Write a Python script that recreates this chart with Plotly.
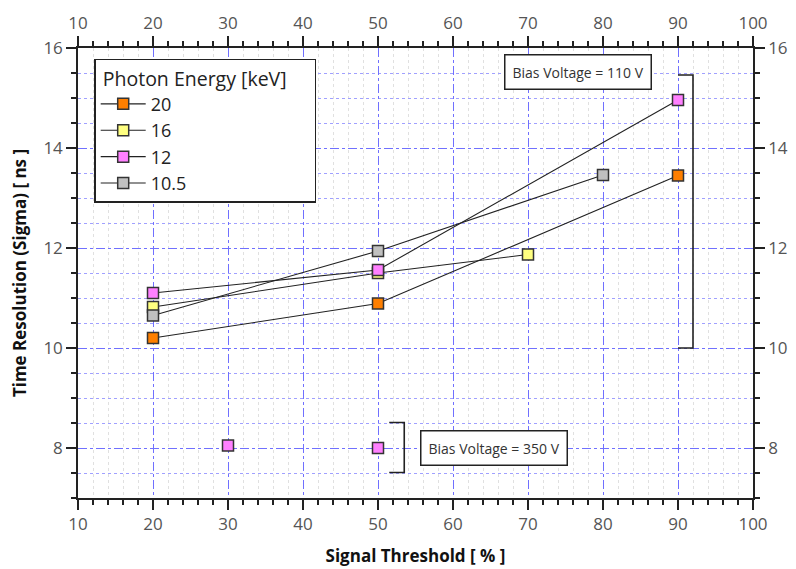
import plotly.graph_objects as go

# ---- data ----
series_names = ["20", "16", "12", "10.5"]
series_colors = ["#FF7F00", "#FFFF80", "#FF80FF", "#C0C0C0"]
x_20 = [20, 50, 90]
y_20 = [10.2, 10.89, 13.45]
x_16 = [20, 50, 70]
y_16 = [10.82, 11.5, 11.87]
x_12 = [20, 50, 90]
y_12 = [11.1, 11.56, 14.96]
x_105 = [20, 50, 80]
y_105 = [10.65, 11.94, 13.46]
x_12_350 = [30, 50]
y_12_350 = [8.05, 8.0]

bracket_110_x = [90, 92, 92, 90]
bracket_110_y = [15.46, 15.46, 10.0, 10.0]
bracket_350_x = [51.5, 53.5, 53.5, 51.5]
bracket_350_y = [8.51, 8.51, 7.51, 7.51]

xs = [x_20, x_16, x_12, x_105]
ys = [y_20, y_16, y_12, y_105]

FONT = "Open Sans"
fig = go.Figure()

for name, col, x, y in zip(series_names, series_colors, xs, ys):
    fig.add_trace(go.Scatter(
        x=x, y=y, name=name, mode="lines+markers",
        line=dict(color="#222222", width=1.1),
        marker=dict(symbol="square", size=11, color=col,
                    line=dict(color="#333333", width=1.5)),
    ))

fig.add_trace(go.Scatter(
    x=x_12_350, y=y_12_350, mode="markers", showlegend=False,
    marker=dict(symbol="square", size=11, color=series_colors[2],
                line=dict(color="#333333", width=1.5)),
))

for bx, by in [(bracket_110_x, bracket_110_y), (bracket_350_x, bracket_350_y)]:
    fig.add_trace(go.Scatter(x=bx, y=by, mode="lines", showlegend=False,
                             hoverinfo="skip",
                             line=dict(color="#222222", width=1.6)))

# invisible trace for secondary axes
fig.add_trace(go.Scatter(x=[10], y=[7], xaxis="x2", yaxis="y2", mode="markers",
                         marker=dict(opacity=0), showlegend=False, hoverinfo="skip"))

major_grid = "#7070FF"
tickfont = dict(family=FONT, size=17, color="#555555")

common_x = dict(range=[10, 100], dtick=10, tick0=10, ticks="outside", ticklen=10,
                tickwidth=1.5, tickcolor="#222222", automargin=False,
                showline=True, linecolor="#222222", linewidth=1.5,
                tickfont=tickfont, zeroline=False)
common_y = dict(range=[7, 16], dtick=2, tick0=8, ticks="outside", ticklen=10,
                tickwidth=1.5, tickcolor="#222222", automargin=False,
                showline=True, linecolor="#222222", linewidth=1.5,
                tickfont=tickfont, zeroline=False)

fig.update_layout(
    width=796, height=569,
    margin=dict(l=78, r=43, t=48, b=71),
    plot_bgcolor="white", paper_bgcolor="white",
    font=dict(family=FONT),
    xaxis=dict(**common_x, showgrid=True, gridcolor=major_grid, griddash="dashdot", gridwidth=1,
               minor=dict(dtick=2, ticks="outside", ticklen=5, tickcolor="#222222",
                          showgrid=True, gridcolor="#E0E0E0", griddash="dot", gridwidth=1),
               title=dict(text="<b>Signal Threshold [ % ]</b>",
                          font=dict(family=FONT, size=17, color="#111111"), standoff=16)),
    yaxis=dict(**common_y, showgrid=True, gridcolor=major_grid, griddash="dashdot", gridwidth=1,
               minor=dict(dtick=0.5, ticks="outside", ticklen=5, tickcolor="#222222",
                          showgrid=True, gridcolor="#A0A0FF", griddash="dot", gridwidth=1),
               title=dict(text="<b>Time Resolution (Sigma) [ ns ]</b>",
                          font=dict(family=FONT, size=17, color="#111111"), standoff=12)),
    xaxis2=dict(**common_x, overlaying="x", side="top", showgrid=False,
                minor=dict(dtick=2, ticks="outside", ticklen=5, tickcolor="#222222")),
    yaxis2=dict(**common_y, overlaying="y", side="right", showgrid=False,
                minor=dict(dtick=0.5, ticks="outside", ticklen=5, tickcolor="#222222")),
    legend=dict(x=0.024, y=0.976, xanchor="left", yanchor="top",
                bgcolor="white", bordercolor="#222222", borderwidth=1.5,
                font=dict(family=FONT, size=18, color="#222222"),
                title=dict(text="&nbsp;Photon Energy [keV]&nbsp;&nbsp;&nbsp;&nbsp;&nbsp;",
                           font=dict(family=FONT, size=19.5, color="#222222")),
                itemwidth=45),
    showlegend=True,
)

fig.add_annotation(x=0.74, y=0.9467, xref="paper", yref="paper", xanchor="center", yanchor="middle",
                   text="Bias Voltage = 110 V", showarrow=False,
                   font=dict(family=FONT, size=14, color="#333333"),
                   bgcolor="white", bordercolor="#222222", borderwidth=1.5,
                   borderpad=7)
fig.add_annotation(x=0.616, y=0.111, xref="paper", yref="paper", xanchor="center", yanchor="middle",
                   text="Bias Voltage = 350 V", showarrow=False,
                   font=dict(family=FONT, size=14, color="#333333"),
                   bgcolor="white", bordercolor="#222222", borderwidth=1.5,
                   borderpad=7)

fig.write_html("out.html")
